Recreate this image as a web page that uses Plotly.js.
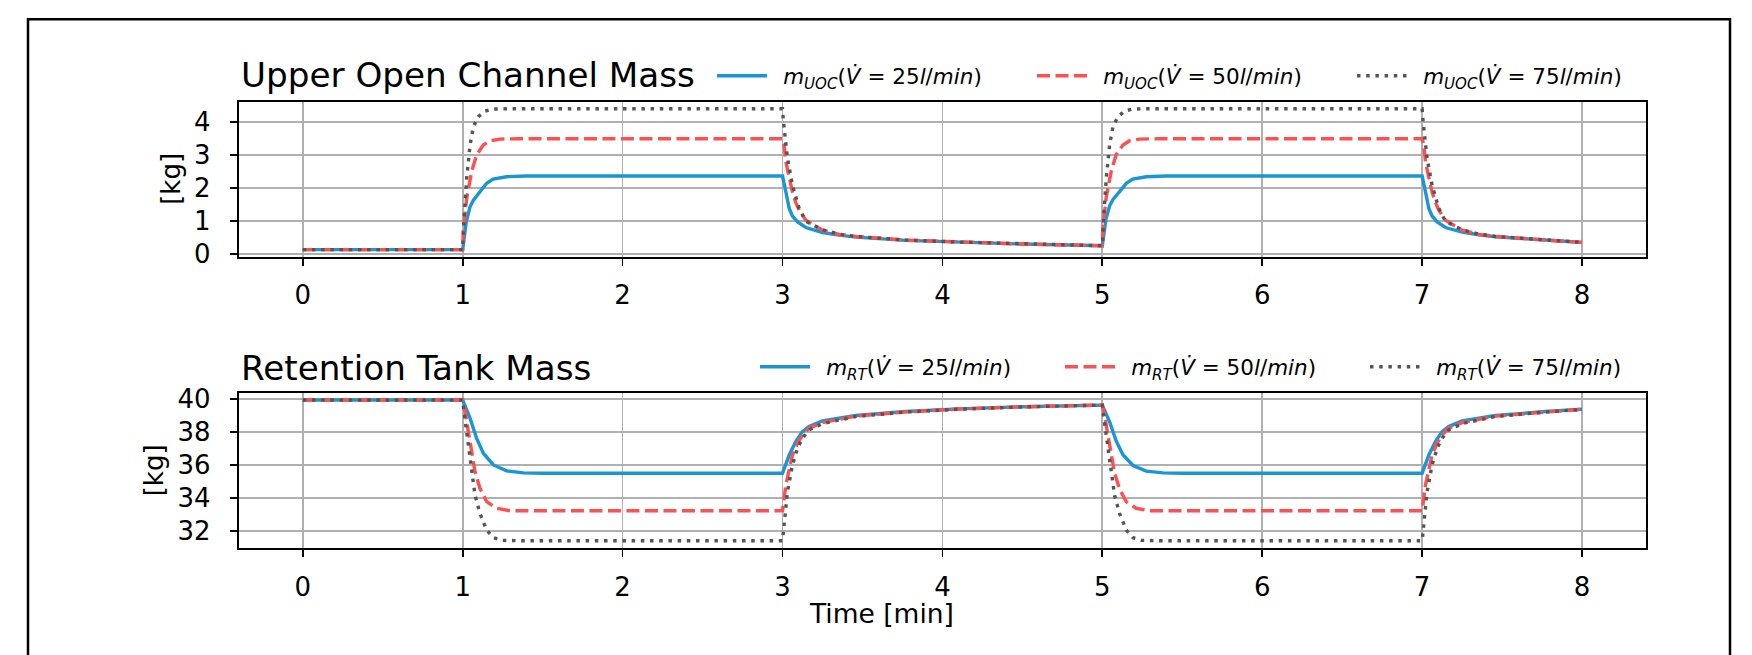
<!DOCTYPE html>
<html>
<head>
<meta charset="utf-8">
<script src="https://cdn.plot.ly/plotly-3.0.1.min.js"></script>
<style>html,body{margin:0;padding:0;background:#fff;}#chart{width:1752px;height:655px;}</style>
</head>
<body>
<div id="chart"></div>
<script>
// ---------- DATA ----------
// Upper Open Channel mass [kg]
const uocT25 = [0, 1.0, 1.023, 1.046, 1.067, 1.108, 1.15, 1.19, 1.275, 1.4, 3.0, 3.021, 3.042, 3.062, 3.094, 3.146, 3.25, 3.354, 3.46, 3.77, 4.1, 4.5, 5.0, 5.023, 5.046, 5.067, 5.108, 5.15, 5.19, 5.275, 5.4, 7.0, 7.021, 7.042, 7.062, 7.094, 7.146, 7.25, 7.354, 7.46, 7.77, 8.0];
const uoc25  = [0.12, 0.12, 0.98, 1.42, 1.62, 1.87, 2.13, 2.26, 2.33, 2.35, 2.35, 1.87, 1.37, 1.14, 0.96, 0.79, 0.64, 0.56, 0.50, 0.40, 0.34, 0.29, 0.24, 1.05, 1.45, 1.64, 1.88, 2.13, 2.26, 2.33, 2.35, 2.35, 1.87, 1.37, 1.14, 0.96, 0.79, 0.65, 0.57, 0.51, 0.41, 0.34];

const uocT50 = [0, 1.0, 1.004, 1.025, 1.056, 1.087, 1.129, 1.171, 1.233, 1.35, 3.0, 3.01, 3.021, 3.042, 3.062, 3.083, 3.104, 3.146, 3.25, 3.354, 3.46, 3.77, 4.1, 4.5, 5.0, 5.004, 5.025, 5.056, 5.087, 5.129, 5.171, 5.233, 5.35, 7.0, 7.01, 7.021, 7.042, 7.062, 7.083, 7.104, 7.146, 7.25, 7.354, 7.46, 7.77, 8.0];
const uoc50  = [0.12, 0.12, 0.70, 1.67, 2.48, 2.99, 3.29, 3.42, 3.47, 3.48, 3.48, 3.30, 2.78, 2.30, 1.87, 1.55, 1.32, 1.01, 0.71, 0.58, 0.52, 0.41, 0.35, 0.29, 0.24, 0.80, 1.72, 2.50, 3.00, 3.29, 3.42, 3.47, 3.48, 3.48, 3.30, 2.78, 2.30, 1.87, 1.55, 1.32, 1.01, 0.71, 0.58, 0.52, 0.41, 0.34];

const uocT75 = [0, 1.0, 1.008, 1.025, 1.046, 1.067, 1.098, 1.14, 1.19, 1.3, 3.0, 3.006, 3.031, 3.062, 3.104, 3.146, 3.25, 3.354, 3.46, 3.77, 4.1, 4.5, 5.0, 5.008, 5.025, 5.046, 5.067, 5.098, 5.14, 5.19, 5.3, 7.0, 7.006, 7.031, 7.062, 7.104, 7.146, 7.25, 7.354, 7.46, 7.77, 8.0];
const uoc75  = [0.12, 0.12, 1.00, 2.28, 3.29, 3.85, 4.15, 4.32, 4.38, 4.39, 4.39, 4.00, 2.89, 2.08, 1.37, 0.98, 0.72, 0.59, 0.52, 0.41, 0.35, 0.29, 0.24, 1.08, 2.30, 3.30, 3.85, 4.15, 4.32, 4.38, 4.39, 4.39, 4.00, 2.89, 2.08, 1.37, 0.98, 0.72, 0.59, 0.52, 0.41, 0.34];

// Retention tank mass [kg]
const rtT25 = [0, 1.0, 1.046, 1.087, 1.129, 1.192, 1.275, 1.379, 1.5, 3.0, 3.042, 3.083, 3.125, 3.166, 3.25, 3.458, 3.77, 4.1, 4.5, 5.0, 5.046, 5.087, 5.129, 5.192, 5.275, 5.379, 5.5, 7.0, 7.042, 7.083, 7.125, 7.166, 7.25, 7.458, 7.77, 8.0];
const rt25  = [39.93, 39.93, 38.83, 37.62, 36.71, 36.00, 35.64, 35.52, 35.50, 35.50, 36.60, 37.41, 38.02, 38.32, 38.67, 38.99, 39.23, 39.39, 39.52, 39.62, 38.60, 37.45, 36.62, 35.97, 35.63, 35.52, 35.50, 35.50, 36.60, 37.41, 38.02, 38.32, 38.67, 38.99, 39.23, 39.37];

const rtT50 = [0, 1.0, 1.015, 1.046, 1.077, 1.108, 1.15, 1.212, 1.296, 1.4, 3.0, 3.021, 3.042, 3.062, 3.094, 3.125, 3.166, 3.25, 3.458, 3.77, 4.1, 4.5, 5.0, 5.015, 5.046, 5.077, 5.108, 5.15, 5.212, 5.296, 5.4, 7.0, 7.021, 7.042, 7.062, 7.094, 7.125, 7.166, 7.25, 7.458, 7.77, 8.0];
const rt50  = [39.93, 39.93, 39.23, 37.41, 35.59, 34.59, 33.78, 33.38, 33.23, 33.23, 33.23, 34.79, 35.80, 36.60, 37.31, 37.82, 38.22, 38.56, 38.95, 39.21, 39.38, 39.52, 39.62, 38.95, 37.20, 35.50, 34.55, 33.77, 33.38, 33.23, 33.23, 33.23, 34.79, 35.80, 36.60, 37.31, 37.82, 38.22, 38.56, 38.95, 39.21, 39.37];

const rtT75 = [0, 1.0, 1.008, 1.035, 1.056, 1.077, 1.108, 1.15, 1.192, 1.244, 1.35, 3.0, 3.01, 3.031, 3.062, 3.094, 3.125, 3.166, 3.25, 3.458, 3.77, 4.1, 4.5, 5.0, 5.008, 5.035, 5.056, 5.077, 5.108, 5.15, 5.192, 5.244, 5.35, 7.0, 7.01, 7.031, 7.062, 7.094, 7.125, 7.166, 7.25, 7.458, 7.77, 8.0];
const rt75  = [39.93, 39.93, 39.23, 37.21, 35.59, 34.18, 33.07, 32.06, 31.60, 31.44, 31.42, 31.42, 32.36, 34.38, 36.00, 37.01, 37.62, 38.12, 38.50, 38.93, 39.20, 39.37, 39.51, 39.62, 38.95, 37.00, 35.50, 34.15, 33.06, 32.06, 31.60, 31.44, 31.42, 31.42, 32.36, 34.38, 36.00, 37.01, 37.62, 38.12, 38.50, 38.93, 39.20, 39.36];

const timeTicks = [0, 1, 2, 3, 4, 5, 6, 7, 8];
const uocTicks  = [0, 1, 2, 3, 4];
const rtTicks   = [32, 34, 36, 38, 40];

const uocNames = ['<i>m</i><sub><i>UOC</i></sub>(<i>V&#775;</i> = 25<i>l</i>/<i>min</i>)',
                  '<i>m</i><sub><i>UOC</i></sub>(<i>V&#775;</i> = 50<i>l</i>/<i>min</i>)',
                  '<i>m</i><sub><i>UOC</i></sub>(<i>V&#775;</i> = 75<i>l</i>/<i>min</i>)'];
const rtNames  = ['<i>m</i><sub><i>RT</i></sub>(<i>V&#775;</i> = 25<i>l</i>/<i>min</i>)',
                  '<i>m</i><sub><i>RT</i></sub>(<i>V&#775;</i> = 50<i>l</i>/<i>min</i>)',
                  '<i>m</i><sub><i>RT</i></sub>(<i>V&#775;</i> = 75<i>l</i>/<i>min</i>)'];

// ---------- STYLE ----------
const W = 1752, H = 655;
const FONT = 'DejaVu Sans, Verdana, sans-serif';
const c25 = '#1996d6', c50 = '#ff4f4f', c75 = '#555555';
const lw = 3.4;
const styles = [
  {color: c25, width: lw, dash: 'solid'},
  {color: c50, width: lw, dash: '13px,5.5px'},
  {color: c75, width: lw, dash: '3.5px,5.7px'}
];
const lead = '&nbsp;&#8201;';

const traces = [
  {x: uocT25, y: uoc25, name: lead + uocNames[0], line: styles[0], xaxis: 'x', yaxis: 'y', legend: 'legend'},
  {x: uocT50, y: uoc50, name: lead + uocNames[1], line: styles[1], xaxis: 'x', yaxis: 'y', legend: 'legend'},
  {x: uocT75, y: uoc75, name: lead + uocNames[2], line: styles[2], xaxis: 'x', yaxis: 'y', legend: 'legend'},
  {x: rtT25, y: rt25, name: lead + rtNames[0], line: styles[0], xaxis: 'x2', yaxis: 'y2', legend: 'legend2'},
  {x: rtT50, y: rt50, name: lead + rtNames[1], line: styles[1], xaxis: 'x2', yaxis: 'y2', legend: 'legend2'},
  {x: rtT75, y: rt75, name: lead + rtNames[2], line: styles[2], xaxis: 'x2', yaxis: 'y2', legend: 'legend2'}
].map(t => Object.assign({type: 'scatter', mode: 'lines', hoverinfo: 'skip'}, t));

const xDom = [238.8 / W, 1646 / W];
const axBase = {
  showline: true, mirror: true, linecolor: '#000', linewidth: 2,
  showgrid: true, gridcolor: '#b0b0b0', gridwidth: 1.8,
  zeroline: false, ticks: 'outside', ticklen: 7, tickwidth: 1.8, tickcolor: '#000',
  tickfont: {family: FONT, size: 26, color: '#000'}, fixedrange: true
};
const xExtra = {ticklabelstandoff: 7};
const yExtra = {ticklabelstandoff: 14};

const legBase = {
  orientation: 'h', xanchor: 'left', yanchor: 'middle', bgcolor: 'rgba(0,0,0,0)',
  borderwidth: 0, font: {family: FONT, size: 21.5, color: '#000'},
  itemwidth: 50, entrywidth: 255, traceorder: 'normal'
};

const layout = {
  width: W, height: H,
  margin: {l: 0, r: 0, t: 0, b: 0, pad: 0},
  paper_bgcolor: '#fff', plot_bgcolor: '#fff',
  font: {family: FONT, color: '#000'},
  showlegend: true,
  xaxis: Object.assign({}, axBase, xExtra, {domain: xDom, anchor: 'y', range: [-0.4, 8.4], tickvals: timeTicks}),
  yaxis: Object.assign({}, axBase, yExtra, {domain: [1 - 256.5 / H, 1 - 101.7 / H], anchor: 'x', range: [-0.088, 4.603], tickvals: uocTicks}),
  xaxis2: Object.assign({}, axBase, xExtra, {domain: xDom, anchor: 'y2', range: [-0.4, 8.4], tickvals: timeTicks}),
  yaxis2: Object.assign({}, axBase, yExtra, {domain: [1 - 548.3 / H, 1 - 392.7 / H], anchor: 'x2', range: [30.96, 40.37], tickvals: rtTicks}),
  legend: Object.assign({}, legBase, {x: 712 / W, y: 1 - 75.7 / H}),
  legend2: Object.assign({}, legBase, {x: 755 / W, y: 1 - 366.7 / H, entrywidth: 240}),
  annotations: [
    {text: 'Upper Open Channel Mass', xref: 'paper', yref: 'paper', x: 238.8 / W, y: 1 - 75 / H,
     xanchor: 'left', yanchor: 'middle', showarrow: false, font: {family: FONT, size: 34.2, color: '#000'}},
    {text: 'Retention Tank Mass', xref: 'paper', yref: 'paper', x: 238.8 / W, y: 1 - 368.3 / H,
     xanchor: 'left', yanchor: 'middle', showarrow: false, font: {family: FONT, size: 34.2, color: '#000'}},
    {text: '[kg]', xref: 'paper', yref: 'paper', x: 170.8 / W, y: 1 - 179 / H, textangle: -90,
     xanchor: 'center', yanchor: 'middle', showarrow: false, font: {family: FONT, size: 26, color: '#000'}},
    {text: '[kg]', xref: 'paper', yref: 'paper', x: 153.7 / W, y: 1 - 470.6 / H, textangle: -90,
     xanchor: 'center', yanchor: 'middle', showarrow: false, font: {family: FONT, size: 26, color: '#000'}},
    {text: 'Time [min]', xref: 'paper', yref: 'paper', x: 881 / W, y: 1 - 613.7 / H,
     xanchor: 'center', yanchor: 'middle', showarrow: false, font: {family: FONT, size: 26.5, color: '#000'}}
  ],
  shapes: [
    {type: 'rect', xref: 'paper', yref: 'paper', x0: 28 / W, x1: 1730 / W, y0: -0.1, y1: 1 - 19.3 / H,
     line: {color: '#000', width: 2.5}, fillcolor: 'rgba(0,0,0,0)', layer: 'above'}
  ]
};

Plotly.newPlot('chart', traces, layout, {staticPlot: true, displayModeBar: false});
</script>
</body>
</html>
